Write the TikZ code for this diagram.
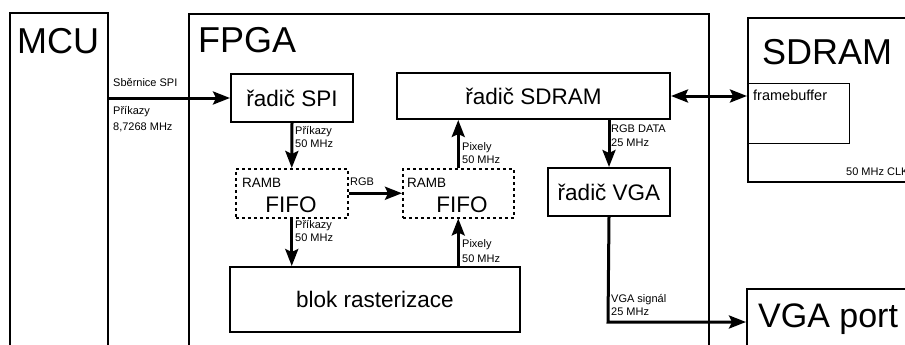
\documentclass[tikz,border=0pt]{standalone}
\usepackage{fontspec}
\setmainfont{Liberation Sans}
\usetikzlibrary{arrows.meta}
\begin{document}
\begin{tikzpicture}[x=1pt,y=-1pt,
  box/.style={draw, line width=2pt, inner sep=0pt, anchor=north west},
  thinbox/.style={draw, line width=1pt, inner sep=0pt, anchor=north west},
  fifobox/.style={draw, line width=1.5pt, dash pattern=on 3pt off 3pt, inner sep=0pt, anchor=north west},
  big/.style={font=\fontsize{36}{40}\selectfont, inner sep=0pt, anchor=base west},
  mid/.style={font=\fontsize{22.5}{26}\selectfont, inner sep=0pt},
  ramb/.style={font=\fontsize{13.5}{16}\selectfont, inner sep=0pt, anchor=base west},
  small/.style={font=\fontsize{11}{13}\selectfont, inner sep=0pt, anchor=base west},
  tip/.tip={Stealth[length=17pt,width=13pt,inset=3pt]},
  arr/.style={line width=3pt, -tip},
]
\useasboundingbox (0,0) rectangle (905,345);
\clip (0,0) rectangle (905,345);

% outer blocks (open towards the page edges)
\node[box, minimum width=98pt, minimum height=360pt] (mcu) at (9,12) {};
\node[box, minimum width=520pt, minimum height=360pt] (fpga) at (188,13) {};
\node[box, minimum width=200pt, minimum height=164pt] (sdram) at (747,17) {};
\node[thinbox, minimum width=102pt, minimum height=60pt] (fb) at (747,83) {};
\node[box, minimum width=200pt, minimum height=100pt] (vgaport) at (746,288) {};

\node[big] (mcut) at (17,54) {MCU};
\node[big] (fpgat) at (198,53) {FPGA};
\node[big] (sdramt) at (762,65) {SDRAM};
\node[big, font=\fontsize{34}{38}\selectfont] (vgaportt) at (758,327) {VGA port};
\node[font=\fontsize{14.5}{17}\selectfont, inner sep=0pt, anchor=base west] (fbt) at (753,100) {framebuffer};
\node[small] (clk) at (846,175) {50 MHz CLK};

% FPGA internals
\node[box, mid, minimum width=122pt, minimum height=48pt] (spi) at (230,73) {řadič SPI};
\node[box, mid, minimum width=273pt, minimum height=46pt] (sdramctl) at (396,72) {řadič SDRAM};
\node[box, mid, minimum width=122pt, minimum height=48pt] (vga) at (547,167) {řadič VGA};
\node[box, mid, minimum width=290pt, minimum height=65pt] (raster) at (229,266) {blok rasterizace};

\node[fifobox, minimum width=112pt, minimum height=49pt] (fifoA) at (235,168) {};
\node[fifobox, minimum width=111pt, minimum height=49pt] (fifoB) at (402,168) {};
\node[ramb] (rambA) at (242,187) {RAMB};
\node[ramb] (rambB) at (407,187) {RAMB};
\node[mid, anchor=base] (fifoAt) at (291,212) {FIFO};
\node[mid, anchor=base] (fifoBt) at (462,212) {FIFO};

% connections
\draw[arr] (mcu.east |- spi.west) -- (spi.west);
\draw[arr] (spi.south) -- (fifoA.north);
\draw[arr] (fifoA.south) -- (fifoA.south |- raster.north);
\draw[arr] (fifoA.east) -- (fifoB.west);
\draw[arr] (fifoB.north) -- (fifoB.north |- sdramctl.south);
\draw[arr] (fifoB.south |- raster.north) -- (fifoB.south);
\draw[arr] (sdramctl.south -| vga.north) -- (vga.north);
\draw[line width=3pt, tip-tip] (sdramctl.east) -- (sdramctl.east -| fb.west);
\coordinate (vgabend) at (608,322);
\draw[arr] (vga.south) -- (vgabend) -- (vgabend -| vgaport.west);

% connector labels
\node[small] (l1) at (113,87) {Sběrnice SPI};
\node[small] (l2) at (113,114) {Příkazy};
\node[small] (l3) at (113,130) {8,7268 MHz};
\node[small] (l4) at (295,134) {Příkazy};
\node[small] (l5) at (295,147) {50 MHz};
\node[small] (l6) at (295,228) {Příkazy};
\node[small] (l7) at (295,241) {50 MHz};
\node[small] (l8) at (350,185) {RGB};
\node[small] (l9) at (462,150) {Pixely};
\node[small] (l10) at (462,163) {50 MHz};
\node[small] (l11) at (462,247) {Pixely};
\node[small] (l12) at (462,262) {50 MHz};
\node[small] (l13) at (611,132) {RGB DATA};
\node[small] (l14) at (611,146) {25 MHz};
\node[small] (l15) at (611,302) {VGA signál};
\node[small] (l16) at (611,315) {25 MHz};
\end{tikzpicture}
\end{document}
